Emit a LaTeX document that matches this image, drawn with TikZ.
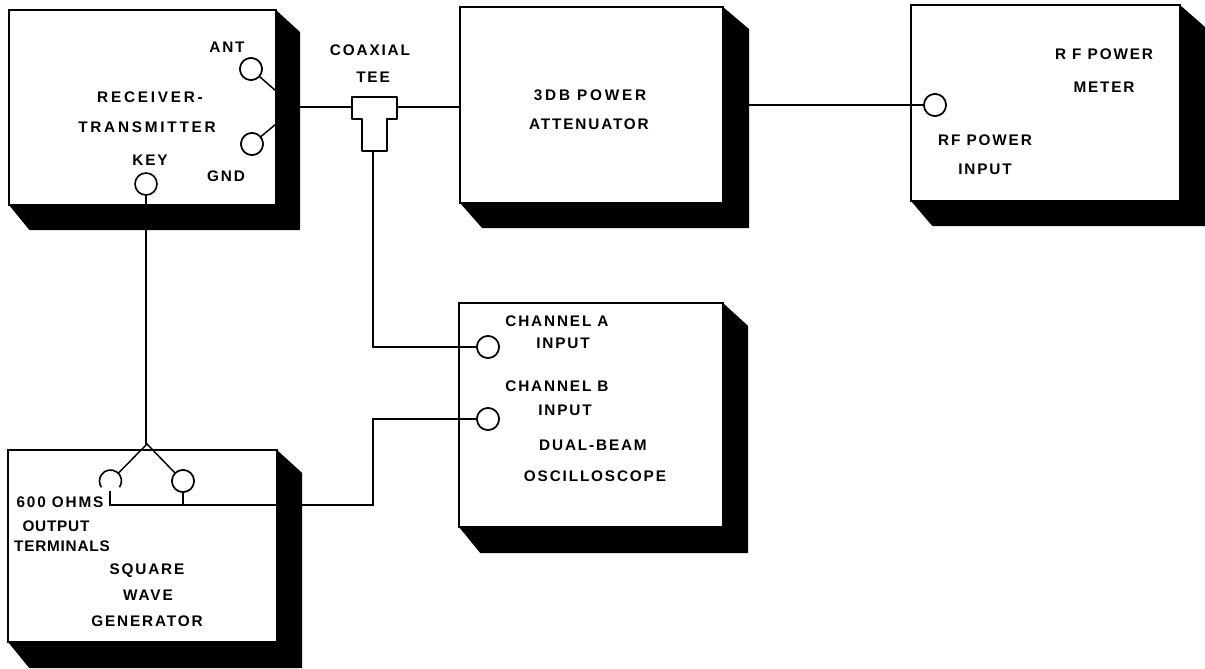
\documentclass[tikz,border=0pt]{standalone}
\usepackage{fontspec}
\setmainfont[LetterSpace=12]{Liberation Sans Bold}
\newcommand{\ibox}[7]{%
  \fill[black] (#4,#3) -- (#6,{#3+(#7-#5)*0.88}) -- (#6,#7) -- ({#2+(#6-#4)*0.85},#7) -- (#2,#5) -- cycle;
  \pgfmathsetmacro{\mycx}{(#2+#4)/2}\pgfmathsetmacro{\mycy}{(#3+#5)/2}
  \pgfmathsetmacro{\myw}{(#4-#2)*0.75}\pgfmathsetmacro{\myh}{(#5-#3)*0.75}
  \node[boxshape,minimum width=\myw pt,minimum height=\myh pt] (#1) at (\mycx,\mycy) {};
}
\tikzset{
  boxshape/.style={draw=black,fill=white,line width=1pt,inner sep=0pt,outer sep=0pt,rectangle},
  port/.style={draw=black,fill=white,circle,line width=1.2pt,inner sep=0pt,outer sep=0pt,minimum size=16.5pt},
  openport/.style={circle,inner sep=0pt,outer sep=0pt,minimum size=16.5pt},
  wire/.style={draw=black,line width=1.1pt,line join=miter},
  lbl/.style={inner sep=0pt,outer sep=0pt,font=\fontsize{11.5pt}{13pt}\selectfont,text=black},
  widelbl/.style={lbl,font=\fontsize{11.5pt}{13pt}\selectfont\addfontfeature{LetterSpace=18}},
  tightlbl/.style={lbl,font=\fontsize{11.5pt}{13pt}\selectfont\addfontfeature{LetterSpace=5}}
}
\begin{document}
\begin{tikzpicture}[x=0.75pt,y=-0.75pt]
\useasboundingbox (0,0) rectangle (1205,668);
\begin{scope}
\clip (0,0) rectangle (1205,668);
\ibox{rt}{9}{10}{276}{205}{300}{230}
\ibox{att}{460}{7}{723}{203}{749}{228}
\ibox{meter}{911}{5}{1180}{201}{1205}{226}
\ibox{scope}{459}{303}{723}{527}{748}{553}
\ibox{gen}{8}{450}{277}{642}{302}{668}
\end{scope}
% ports
\node[port] (ant) at (251,69) {};
\node[port] (gnd) at (252,144) {};
\node[port] (key) at (146,184) {};
\node[port] (rfin) at (935,105) {};
\node[port] (cha) at (488,347) {};
\node[port] (chb) at (488,419) {};
\node[openport] (outl) at (110.5,481) {};
\node[port] (outr) at (183,481) {};
\draw[line width=1.2pt] (outl) ++(-35:8.25pt) arc[start angle=-35,end angle=215,radius=8.25pt];
% coordinates
\coordinate (antj) at (276,91);
\coordinate (gndj) at (276,124);
\coordinate (teeL) at (352,107);
\coordinate (teeR) at (397,107);
\coordinate (teeB) at (373,151);
\coordinate (apex) at (147,444);
\coordinate (outlb) at (110,491);
\coordinate (bus) at (110,505);
\coordinate (busr) at (183,505);
\coordinate (bend) at (373,505);
% tee
\draw[line width=1.2pt,fill=white,line join=round] (352,97) -- (397,97) -- (397,119) -- (387,119) -- (387,151) -- (362,151) -- (362,119) -- (352,119) -- cycle;
% wires
\draw[wire] (ant) -- (antj);
\draw[wire] (gnd) -- (gndj);
\draw[wire] (rt.east |- teeL) -- (teeL);
\draw[wire] (teeR) -- (att.west |- teeR);
\draw[wire] (att.east |- rfin) -- (rfin);
\draw[wire] (teeB) |- (cha);
\draw[wire] (key.south) -- (key.south |- apex) coordinate (keyap);
\draw[wire] (outl.45) -- (apex) -- (outr.135);
\draw[wire] (outlb) -- (bus) -- (bend) |- (chb);
\draw[wire] (outr) -- (busr);
\node[port] at (outr) {};
\node[port] at (ant) {};
\node[port] at (gnd) {};
\node[port] at (rfin) {};
\node[port] at (cha) {};
\node[port] at (chb) {};
% labels
\node[lbl] (t1) at (227,47) {ANT};
\node[lbl] (t2) at (226,176) {GND};
\node[widelbl] (t3) at (150,97) {RECEIVER-};
\node[widelbl] (t4) at (147,127) {TRANSMITTER};
\node[lbl] (t5) at (150,160) {KEY};
\node[lbl] (t6) at (370,50) {COAXIAL};
\node[lbl] (t7) at (373,77) {TEE};
\node[widelbl] (t8) at (590,95) {3DB POWER};
\node[lbl] (t9) at (589,124) {ATTENUATOR};
\node[lbl] (t10) at (1104,54) {R F POWER};
\node[lbl] (t11) at (1104,87) {METER};
\node[lbl] (t12) at (985,140) {RF POWER};
\node[lbl] (t13) at (985,169) {INPUT};
\node[lbl] (t14) at (557,321) {CHANNEL A};
\node[lbl] (t15) at (563,343) {INPUT};
\node[lbl] (t16) at (557,386) {CHANNEL B};
\node[lbl] (t17) at (565,410) {INPUT};
\node[lbl] (t18) at (593,445) {DUAL-BEAM};
\node[lbl] (t19) at (595,476) {OSCILLOSCOPE};
\node[lbl] (t20) at (60,502) {600 OHMS};
\node[tightlbl] (t21) at (56,526) {OUTPUT};
\node[tightlbl] (t22) at (62,546) {TERMINALS};
\node[lbl] (t23) at (147,571) {SQUARE};
\node[lbl] (t24) at (148,595) {WAVE};
\node[lbl] (t25) at (147,621) {GENERATOR};
\end{tikzpicture}
\end{document}
